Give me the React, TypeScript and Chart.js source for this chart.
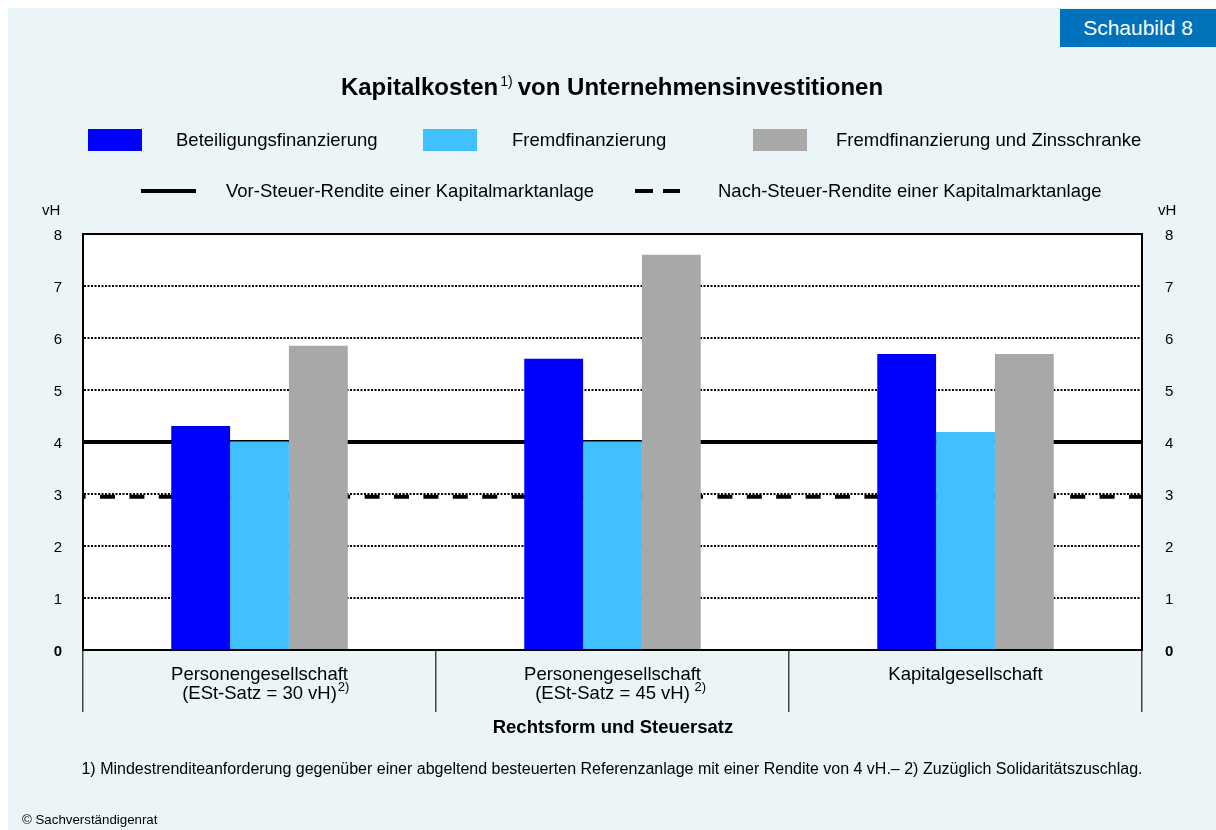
import React, { useEffect, useRef } from "react";
import { Chart, registerables } from "chart.js";

Chart.register(...registerables);

const FONT = '"Liberation Sans", Arial, Helvetica, sans-serif';

// ---- data ----
const categories: string[][] = [
  ["Personengesellschaft", "(ESt-Satz = 30 vH)"],
  ["Personengesellschaft", "(ESt-Satz = 45 vH)"],
  ["Kapitalgesellschaft"],
];
const categoryNotes = ["2)", " 2)", ""];
const seriesNames = [
  "Beteiligungsfinanzierung",
  "Fremdfinanzierung",
  "Fremdfinanzierung und Zinsschranke",
];
const beteiligung = [4.31, 5.6, 5.69];
const fremd = [4.01, 4.01, 4.19];
const zinsschranke = [5.85, 7.6, 5.69];
const lineNames = [
  "Vor-Steuer-Rendite einer Kapitalmarktanlage",
  "Nach-Steuer-Rendite einer Kapitalmarktanlage",
];
const vorSteuer = 4;
const nachSteuer = 2.945;
const yMin = 0;
const yMax = 8;
const yStep = 1;

const COLORS = ["#0000FF", "#40C0FF", "#A8A8A8"];
const BG = "#EBF5F8";
const XFONT = 18.5;

const plotPlugin = {
  id: "plotDecor",
  beforeDraw(chart: any) {
    const { ctx, chartArea } = chart;
    ctx.save();
    ctx.fillStyle = "#FFFFFF";
    ctx.fillRect(chartArea.left, chartArea.top, chartArea.right - chartArea.left, chartArea.bottom - chartArea.top);
    ctx.restore();
  },
  beforeDatasetsDraw(chart: any) {
    const { ctx, chartArea } = chart;
    const y = chart.scales.y;
    ctx.save();
    // top frame
    ctx.strokeStyle = "#000";
    ctx.lineWidth = 2;
    ctx.beginPath();
    ctx.moveTo(chartArea.left - 1, chartArea.top);
    ctx.lineTo(chartArea.right + 1, chartArea.top);
    ctx.stroke();
    // reference lines (value lines on the y scale)
    ctx.lineWidth = 4;
    ctx.beginPath();
    const ySolid = y.getPixelForValue(vorSteuer);
    ctx.moveTo(chartArea.left, ySolid);
    ctx.lineTo(chartArea.right, ySolid);
    ctx.stroke();
    ctx.setLineDash([15, 14.4]);
    ctx.lineDashOffset = 12.4;
    ctx.beginPath();
    const yDash = y.getPixelForValue(nachSteuer);
    ctx.moveTo(chartArea.left, yDash);
    ctx.lineTo(chartArea.right, yDash);
    ctx.stroke();
    ctx.restore();
  },
  afterDraw(chart: any) {
    const { ctx } = chart;
    const xs = chart.scales.x;
    ctx.save();
    ctx.fillStyle = "#000";
    ctx.textBaseline = "middle";
    ctx.textAlign = "left";
    const line2 = xs.top + 62 - 46 + XFONT * 1.5;
    categories.forEach((lab, i) => {
      const note = categoryNotes[i];
      if (!note || lab.length < 2) return;
      ctx.font = `${XFONT}px ${FONT}`;
      const w = ctx.measureText(lab[1]).width;
      const x = xs.getPixelForTick(i) + w / 2 + 1;
      ctx.font = `13px ${FONT}`;
      ctx.fillText(note, x, line2 - 6);
    });
    ctx.restore();
  },
};

export default function App() {
  const ref = useRef<HTMLCanvasElement>(null);

  useEffect(() => {
    const canvas = ref.current;
    if (!canvas) return;
    const tickFont = (c: any) => ({
      family: FONT,
      size: 15,
      weight: c.tick && c.tick.value === 0 ? "bold" : "normal",
    });
    const chart = new Chart(canvas, {
      type: "bar",
      data: {
        labels: categories as any,
        datasets: [
          { label: seriesNames[0], data: beteiligung, backgroundColor: COLORS[0] },
          { label: seriesNames[1], data: fremd, backgroundColor: COLORS[1] },
          { label: seriesNames[2], data: zinsschranke, backgroundColor: COLORS[2] },
        ],
      },
      options: {
        responsive: false,
        animation: false,
        layout: { padding: { left: 35, right: 34, top: 226, bottom: 118 } },
        plugins: { legend: { display: false }, tooltip: { enabled: false }, title: { display: false } },
        datasets: { bar: { categoryPercentage: 0.5, barPercentage: 1 } },
        scales: {
          x: {
            type: "category",
            offset: true,
            grid: { offset: true, display: true, drawOnChartArea: false, drawTicks: true, tickLength: 62, color: "#444", lineWidth: 1.5 },
            border: { display: true, color: "#000", width: 2, z: 1 },
            ticks: { padding: -46, autoSkip: false, maxRotation: 0, minRotation: 0, color: "#000", font: { family: FONT, size: XFONT, lineHeight: 1 } },
            afterFit: (s: any) => { s.height = 62; },
          },
          y: {
            position: "left",
            min: yMin,
            max: yMax,
            ticks: { stepSize: yStep, padding: 21, labelOffset: 2, color: "#000", font: tickFont as any },
            grid: { color: "#000", lineWidth: 2, drawTicks: false },
            border: { display: true, color: "#000", width: 2, dash: [2, 1.5] },
            afterFit: (s: any) => { s.width = 40; },
          },
          y2: {
            position: "right",
            min: yMin,
            max: yMax,
            ticks: { stepSize: yStep, padding: 23, labelOffset: 2, color: "#000", font: tickFont as any },
            grid: { display: false, drawTicks: false },
            border: { display: true, color: "#000", width: 2 },
            afterFit: (s: any) => { s.width = 40; },
          },
        } as any,
      },
      plugins: [plotPlugin],
    });
    return () => chart.destroy();
  }, []);

  const txt = (left: number, cy: number, size: number, content: React.ReactNode, extra: React.CSSProperties = {}) => (
    <div
      style={{
        position: "absolute",
        left,
        top: cy - size * 0.6,
        height: size * 1.2,
        lineHeight: `${size * 1.2}px`,
        fontSize: size,
        whiteSpace: "nowrap",
        ...extra,
      }}
    >
      {content}
    </div>
  );

  return (
    <div
      style={{
        position: "absolute",
        left: 8,
        top: 8,
        width: 1208,
        height: 822,
        background: BG,
        fontFamily: FONT,
        color: "#000",
        overflow: "hidden",
      }}
    >
      <canvas ref={ref} width={1208} height={822} style={{ position: "absolute", left: 0, top: 0 }} />

      {/* badge */}
      <div
        style={{
          position: "absolute",
          left: 1052,
          top: 1,
          width: 156,
          height: 38,
          background: "#0072BB",
          color: "#fff",
          fontSize: 21,
          lineHeight: "38px",
          textAlign: "center",
        }}
      >
        Schaubild 8
      </div>

      {/* title */}
      <div
        style={{
          position: "absolute",
          left: 0,
          width: 1208,
          top: 64,
          height: 30,
          lineHeight: "30px",
          textAlign: "center",
          fontSize: 24,
          fontWeight: "bold",
        }}
      >
        Kapitalkosten
        <span style={{ fontSize: 14, fontWeight: "normal", position: "relative", top: -9, marginLeft: 2, marginRight: 5 }}>1)</span>
        von Unternehmensinvestitionen
      </div>

      {/* legend row 1 */}
      <div style={{ position: "absolute", left: 80, top: 121, width: 54, height: 22, background: COLORS[0] }} />
      {txt(168, 132, 18.5, seriesNames[0])}
      <div style={{ position: "absolute", left: 415, top: 121, width: 54, height: 22, background: COLORS[1] }} />
      {txt(504, 132, 18.5, seriesNames[1])}
      <div style={{ position: "absolute", left: 745, top: 121, width: 54, height: 22, background: COLORS[2] }} />
      {txt(828, 132, 18.5, seriesNames[2])}

      {/* legend row 2 */}
      <div style={{ position: "absolute", left: 133, top: 181, width: 55, height: 4, background: "#000" }} />
      {txt(218, 183, 18.5, lineNames[0])}
      <div style={{ position: "absolute", left: 627, top: 181, width: 18, height: 4, background: "#000" }} />
      <div style={{ position: "absolute", left: 655, top: 181, width: 17, height: 4, background: "#000" }} />
      {txt(710, 183, 18.5, lineNames[1])}

      {/* axis units */}
      {txt(34, 202, 15, "vH")}
      {txt(1150, 202, 15, "vH")}

      {/* axis title */}
      <div
        style={{
          position: "absolute",
          left: 0,
          width: 1210,
          top: 708,
          height: 22,
          lineHeight: "22px",
          textAlign: "center",
          fontSize: 18.5,
          fontWeight: "bold",
        }}
      >
        Rechtsform und Steuersatz
      </div>

      {/* footnote */}
      <div
        style={{
          position: "absolute",
          left: 0,
          width: 1208,
          top: 751,
          height: 20,
          lineHeight: "20px",
          textAlign: "center",
          fontSize: 16,
        }}
      >
        1) Mindestrenditeanforderung gegenüber einer abgeltend besteuerten Referenzanlage mit einer Rendite von 4 vH.– 2) Zuzüglich Solidaritätszuschlag.
      </div>

      {/* copyright */}
      {txt(14, 812, 13.3, "© Sachverständigenrat")}
    </div>
  );
}
